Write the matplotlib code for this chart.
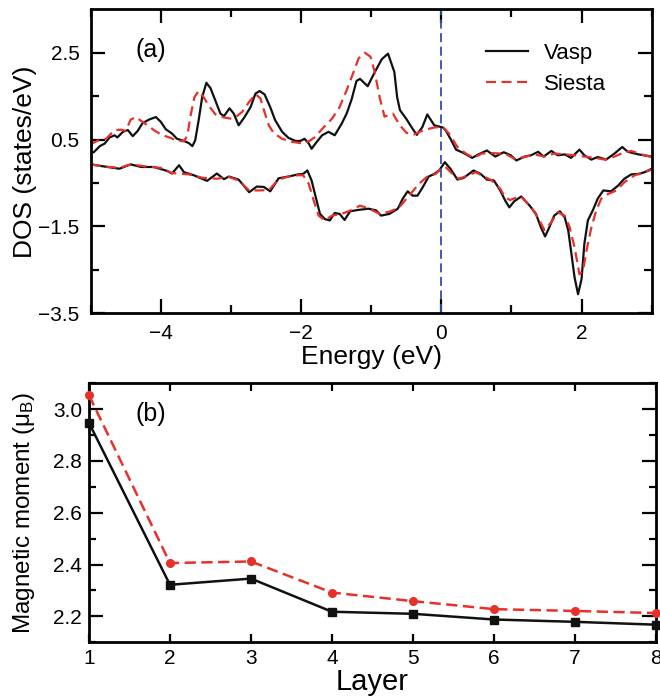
import matplotlib
matplotlib.use("Agg")
import matplotlib.pyplot as plt
import numpy as np
from matplotlib.ticker import MultipleLocator

RED = "#e8302a"
BLACK = "#111111"
BLUE = "#3050a8"

# ---- panel (a): spin-resolved DOS, energy (eV) vs states/eV ----
vasp_up_e = [-5.00, -4.95, -4.87, -4.80, -4.73, -4.66, -4.62, -4.54, -4.47, -4.40,
             -4.33, -4.26, -4.17, -4.07, -4.00, -3.93, -3.84, -3.77, -3.67, -3.60,
             -3.55, -3.51, -3.46, -3.41, -3.35, -3.29, -3.22, -3.15, -3.10, -3.02,
             -2.96, -2.89, -2.81, -2.72, -2.65, -2.59, -2.52, -2.44, -2.37, -2.27,
             -2.18, -2.08, -2.01, -1.95, -1.89, -1.85, -1.78, -1.70, -1.61, -1.52,
             -1.42, -1.35, -1.28, -1.21, -1.16, -1.05, -0.95, -0.85, -0.76, -0.67,
             -0.63, -0.59, -0.50, -0.41, -0.35, -0.27, -0.20, -0.10, 0.02, 0.06,
             0.13, 0.21, 0.32, 0.44, 0.53, 0.65, 0.77, 0.89, 0.99, 1.07,
             1.19, 1.28, 1.38, 1.46, 1.57, 1.66, 1.76, 1.85, 1.97, 2.04,
             2.14, 2.23, 2.35, 2.47, 2.58, 2.66, 2.81, 3.00]
vasp_up = [0.18, 0.22, 0.35, 0.41, 0.55, 0.60, 0.55, 0.68, 0.72, 0.58,
           0.70, 0.88, 0.96, 1.02, 0.91, 0.74, 0.64, 0.52, 0.47, 0.42,
           0.35, 0.48, 0.95, 1.48, 1.81, 1.68, 1.39, 1.10, 1.04, 1.22,
           1.10, 0.83, 1.01, 1.25, 1.56, 1.62, 1.54, 1.25, 0.95, 0.68,
           0.54, 0.47, 0.47, 0.52, 0.41, 0.29, 0.44, 0.60, 0.68, 0.60,
           0.87, 1.10, 1.42, 1.85, 1.90, 1.73, 2.05, 2.35, 2.48, 2.06,
           1.48, 1.18, 0.98, 0.75, 0.61, 0.79, 1.08, 0.83, 0.78, 0.72,
           0.52, 0.27, 0.19, 0.08, 0.16, 0.25, 0.11, 0.21, 0.14, 0.02,
           0.11, 0.14, 0.22, 0.11, 0.24, 0.14, 0.16, 0.08, 0.27, 0.14,
           0.04, 0.10, 0.04, 0.18, 0.33, 0.22, 0.16, 0.11]

siesta_up_e = [-5.00, -4.97, -4.87, -4.78, -4.66, -4.57, -4.50, -4.43, -4.36, -4.28,
               -4.19, -4.10, -4.00, -3.88, -3.77, -3.67, -3.62, -3.58, -3.52, -3.46,
               -3.39, -3.32, -3.22, -3.10, -2.99, -2.93, -2.84, -2.74, -2.65, -2.58,
               -2.53, -2.46, -2.39, -2.27, -2.13, -2.01, -1.89, -1.80, -1.68, -1.56,
               -1.45, -1.35, -1.26, -1.18, -1.09, -1.01, -0.95, -0.88, -0.81, -0.69,
               -0.60, -0.50, -0.39, -0.25, -0.10, 0.02, 0.11, 0.23, 0.35, 0.46,
               0.58, 0.72, 0.86, 0.92, 1.04, 1.19, 1.33, 1.47, 1.61, 1.76,
               1.90, 2.04, 2.19, 2.33, 2.47, 2.61, 2.71, 2.85, 3.00]
siesta_up = [0.37, 0.42, 0.50, 0.52, 0.72, 0.73, 0.70, 0.96, 1.02, 0.93,
             0.83, 0.72, 0.62, 0.55, 0.48, 0.46, 0.60, 1.02, 1.48, 1.62,
             1.48, 1.29, 1.08, 1.01, 0.98, 1.02, 1.14, 1.37, 1.55, 1.45,
             1.18, 0.83, 0.65, 0.52, 0.45, 0.42, 0.46, 0.56, 0.78, 0.98,
             1.25, 1.64, 2.02, 2.37, 2.50, 2.41, 2.06, 1.48, 1.03, 1.10,
             0.85, 0.66, 0.62, 0.72, 0.78, 0.79, 0.64, 0.33, 0.18, 0.08,
             0.18, 0.19, 0.18, 0.17, 0.06, 0.10, 0.16, 0.11, 0.18, 0.16,
             0.14, 0.11, 0.08, 0.04, 0.11, 0.21, 0.24, 0.16, 0.10]

vasp_dn_e = [-5.00, -4.80, -4.59, -4.43, -4.28, -4.10, -3.91, -3.84, -3.74, -3.67,
             -3.53, -3.34, -3.20, -3.10, -3.03, -2.89, -2.74, -2.63, -2.53, -2.44,
             -2.32, -2.18, -2.04, -1.97, -1.91, -1.85, -1.79, -1.73, -1.66, -1.59,
             -1.52, -1.45, -1.38, -1.30, -1.19, -1.04, -0.93, -0.86, -0.74, -0.62,
             -0.55, -0.48, -0.41, -0.34, -0.27, -0.18, -0.10, -0.03, 0.05, 0.13,
             0.23, 0.32, 0.46, 0.56, 0.65, 0.75, 0.84, 0.91, 0.97, 1.04,
             1.14, 1.26, 1.35, 1.42, 1.48, 1.54, 1.61, 1.69, 1.76, 1.81,
             1.85, 1.90, 1.95, 2.00, 2.04, 2.09, 2.16, 2.23, 2.31, 2.42,
             2.52, 2.61, 2.71, 2.81, 2.90, 3.00]
vasp_dn = [-0.07, -0.12, -0.17, -0.07, -0.13, -0.13, -0.22, -0.28, -0.09, -0.25,
           -0.32, -0.45, -0.28, -0.41, -0.35, -0.42, -0.71, -0.58, -0.59, -0.69,
           -0.39, -0.35, -0.30, -0.29, -0.21, -0.44, -0.83, -1.21, -1.33, -1.36,
           -1.19, -1.21, -1.35, -1.15, -1.12, -1.09, -1.13, -1.25, -1.21, -1.09,
           -0.86, -0.69, -0.79, -0.79, -0.61, -0.35, -0.29, -0.21, -0.02, -0.17,
           -0.42, -0.38, -0.21, -0.29, -0.42, -0.44, -0.67, -0.90, -1.06, -0.92,
           -0.81, -1.02, -1.21, -1.52, -1.73, -1.52, -1.25, -1.15, -1.29, -1.59,
           -2.06, -2.67, -3.06, -2.71, -1.90, -1.36, -1.13, -0.86, -0.67, -0.69,
           -0.56, -0.40, -0.30, -0.29, -0.25, -0.17]

siesta_dn_e = [-5.00, -4.80, -4.59, -4.43, -4.20, -4.00, -3.84, -3.60, -3.40, -3.20,
               -3.03, -2.89, -2.74, -2.60, -2.46, -2.32, -2.18, -2.04, -1.97, -1.89,
               -1.82, -1.75, -1.66, -1.56, -1.42, -1.28, -1.16, -1.04, -0.88, -0.74,
               -0.60, -0.46, -0.32, -0.20, -0.08, -0.01, 0.06, 0.16, 0.25, 0.39,
               0.49, 0.61, 0.72, 0.84, 0.91, 0.98, 1.08, 1.14, 1.28, 1.38,
               1.47, 1.57, 1.66, 1.76, 1.83, 1.90, 1.97, 2.02, 2.07, 2.14,
               2.21, 2.28, 2.38, 2.50, 2.61, 2.76, 2.90, 3.00]
siesta_dn = [-0.07, -0.12, -0.15, -0.07, -0.12, -0.15, -0.27, -0.30, -0.38, -0.40,
             -0.36, -0.44, -0.67, -0.67, -0.66, -0.42, -0.35, -0.32, -0.32, -0.52,
             -0.90, -1.25, -1.36, -1.25, -1.21, -1.12, -1.02, -1.08, -1.21, -1.16,
             -1.06, -0.79, -0.52, -0.35, -0.29, -0.17, -0.13, -0.29, -0.40, -0.32,
             -0.25, -0.35, -0.44, -0.63, -0.83, -0.89, -0.83, -0.81, -1.06, -1.30,
             -1.58, -1.40, -1.17, -1.25, -1.52, -1.98, -2.60, -2.52, -2.06, -1.52,
             -1.13, -0.86, -0.75, -0.67, -0.48, -0.32, -0.25, -0.19]

# ---- panel (b): magnetic moment per layer ----
layers = [1, 2, 3, 4, 5, 6, 7, 8]
moment_vasp = [2.947, 2.322, 2.346, 2.218, 2.210, 2.188, 2.179, 2.168]
moment_siesta = [3.054, 2.406, 2.412, 2.292, 2.259, 2.228, 2.221, 2.213]

plt.rcParams.update({
    "font.family": ["Liberation Sans", "DejaVu Sans"],
    "mathtext.fontset": "custom",
    "mathtext.rm": "Liberation Sans",
    "mathtext.it": "Liberation Sans:italic",
    "axes.linewidth": 2.0,
    "xtick.direction": "in",
    "ytick.direction": "in",
    "xtick.top": True,
    "ytick.right": True,
    "lines.solid_joinstyle": "round",
    "lines.dash_joinstyle": "round",
})

fig = plt.figure(figsize=(6.6, 6.98), dpi=100)

# panel (a)
ax1 = fig.add_axes([0.1374, 0.5511, 0.8500, 0.4355])
ax1.plot(vasp_up_e, vasp_up, color=BLACK, lw=1.6, label="Vasp")
ax1.plot(siesta_up_e, siesta_up, color=RED, lw=1.6, dashes=(4.5, 2.5), label="Siesta")
ax1.plot(vasp_dn_e, vasp_dn, color=BLACK, lw=1.6)
ax1.plot(siesta_dn_e, siesta_dn, color=RED, lw=1.6, dashes=(4.5, 2.5))
ax1.axvline(0, color=BLUE, lw=1.3, dashes=(5, 2.5))

ax1.set_xlim(-5, 3)
ax1.set_ylim(-3.5, 3.5)
ax1.xaxis.set_major_locator(MultipleLocator(2))
ax1.xaxis.set_minor_locator(MultipleLocator(1))
ax1.set_yticks([-3.5, -1.5, 0.5, 2.5])
ax1.set_yticks([-2.5, -0.5, 1.5], minor=True)
ax1.tick_params(which="major", length=10, width=1.6, labelsize=15, pad=8)
ax1.tick_params(which="minor", length=6, width=1.6)
ax1.set_xlabel("Energy (eV)", fontsize=19, labelpad=1)
ax1.set_ylabel("DOS (states/eV)", fontsize=19)
ax1.yaxis.set_label_coords(-0.095, 0.5)
ax1.text(0.108, 0.866, "(a)", transform=ax1.transAxes, fontsize=18,
         ha="center", va="center")
ax1.legend(loc="upper left", bbox_to_anchor=(0.705, 0.89), frameon=False,
           fontsize=16, handlelength=1.9, handletextpad=0.7, labelspacing=0.45,
           borderpad=0, borderaxespad=0)

# panel (b)
ax2 = fig.add_axes([0.1348, 0.0798, 0.8591, 0.3711])
ax2.plot(layers, moment_vasp, color=BLACK, lw=1.8, marker="s", ms=5.5,
         clip_on=False, zorder=3)
ax2.plot(layers, moment_siesta, color=RED, lw=1.8, dashes=(4.5, 2.2), marker="o",
         ms=5.5, clip_on=False, zorder=3)

ax2.set_xlim(1, 8)
ax2.set_ylim(2.1, 3.1)
ax2.xaxis.set_major_locator(MultipleLocator(1))
ax2.yaxis.set_major_locator(MultipleLocator(0.2))
ax2.yaxis.set_minor_locator(MultipleLocator(0.1))
ax2.tick_params(axis="x", which="major", length=6, width=1.6, labelsize=15, pad=5)
ax2.tick_params(axis="y", which="major", length=10, width=1.6, labelsize=15, pad=5)
ax2.tick_params(axis="y", which="minor", length=5, width=1.6)
ax2.set_xlabel("Layer", fontsize=21, labelpad=0)
ax2.set_ylabel("Magnetic moment (μ$_{\\mathrm{B}}$)", fontsize=17.5)
ax2.yaxis.set_label_coords(-0.091, 0.5)
ax2.text(0.109, 0.881, "(b)", transform=ax2.transAxes, fontsize=18,
         ha="center", va="center")

fig.savefig("out.png", dpi=100)
